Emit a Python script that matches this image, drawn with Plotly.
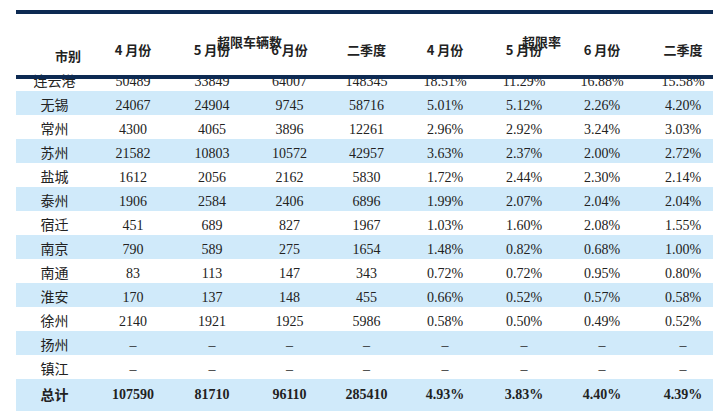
import plotly.graph_objects as go

cities = ["连云港","无锡","常州","苏州","盐城","泰州","宿迁","南京","南通","淮安","徐州","扬州","镇江","总计"]
cnt_apr = ["50489","24067","4300","21582","1612","1906","451","790","83","170","2140","–","–","107590"]
cnt_may = ["33849","24904","4065","10803","2056","2584","689","589","113","137","1921","–","–","81710"]
cnt_jun = ["64007","9745","3896","10572","2162","2406","827","275","147","148","1925","–","–","96110"]
cnt_q2  = ["148345","58716","12261","42957","5830","6896","1967","1654","343","455","5986","–","–","285410"]
rate_apr = ["18.51%","5.01%","2.96%","3.63%","1.72%","1.99%","1.03%","1.48%","0.72%","0.66%","0.58%","–","–","4.93%"]
rate_may = ["11.29%","5.12%","2.92%","2.37%","2.44%","2.07%","1.60%","0.82%","0.72%","0.52%","0.50%","–","–","3.83%"]
rate_jun = ["16.88%","2.26%","3.24%","2.00%","2.30%","2.04%","2.08%","0.68%","0.95%","0.57%","0.49%","–","–","4.40%"]
rate_q2  = ["15.58%","4.20%","3.03%","2.72%","2.14%","2.04%","1.55%","1.00%","0.80%","0.58%","0.52%","–","–","4.39%"]
sub_headers = ["", "4 月份","5 月份","6 月份","二季度","4 月份","5 月份","6 月份","二季度"]
group_headers = ["超限车辆数", "超限率"]

W, H = 721, 414
navy = "#0d2a52"
blue = "#d0eafa"
n = len(cities)
fills = [["white" if i % 2 == 0 else blue for i in range(n)]] * 9
cols = [cities, cnt_apr, cnt_may, cnt_jun, cnt_q2, rate_apr, rate_may, rate_jun, rate_q2]
cols = [[("<b>%s</b>" % v) if i == n-1 else v for i, v in enumerate(c)] for c in cols]

fig = go.Figure(go.Table(
    domain=dict(x=[8/W, 717/W], y=[0, 1-24/H]),
    columnwidth=[77, 80, 78, 77, 77, 80, 78, 78, 84],
    header=dict(values=["<b>%s</b>" % h for h in sub_headers], height=30,
                fill_color="white", line=dict(width=0, color="white"),
                font=dict(family="Noto Sans CJK SC", size=13, color="#222"), align="center"),
    cells=dict(values=cols, height=24, fill_color=fills, line=dict(width=0, color="white"),
               font=dict(family="Liberation Serif, Noto Sans CJK SC", size=14, color="#222"),
               align="center"),
))

x0, x1 = 8/W, 717/W
for y, w in [(4, 4), (69, 4), (409, 4)]:
    fig.add_shape(type="line", xref="paper", yref="paper", x0=x0, x1=x1,
                  y0=1-y/H, y1=1-y/H, line=dict(color=navy, width=w))

fig.add_annotation(x=45/W, y=1-36/H, xref="paper", yref="paper", text="<b>市别</b>",
                   showarrow=False, font=dict(family="Noto Sans CJK SC", size=13, color="#222"))
for gx, g in zip([241, 555], group_headers):
    fig.add_annotation(x=gx/W, y=1-22/H, xref="paper", yref="paper", text="<b>%s</b>" % g,
                       showarrow=False, font=dict(family="Noto Sans CJK SC", size=13, color="#222"))

fig.update_layout(width=W, height=H, margin=dict(l=0, r=0, t=0, b=0),
                  paper_bgcolor="white")
fig.write_html("out.html")
